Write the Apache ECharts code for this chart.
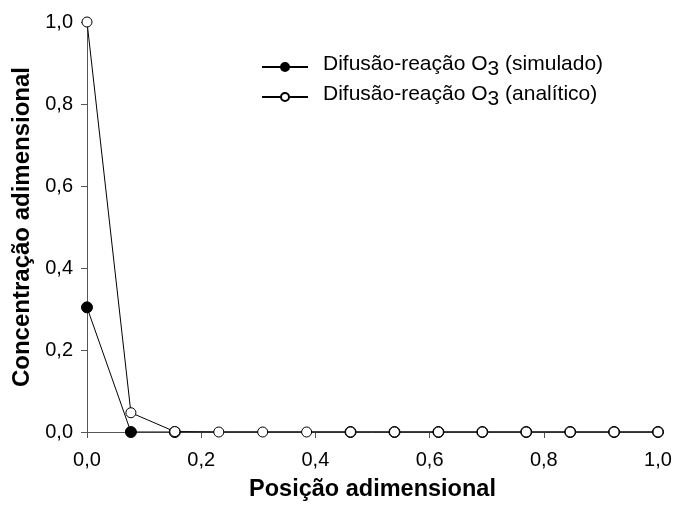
<!DOCTYPE html>
<html><head><meta charset="utf-8">
<script src="https://cdn.jsdelivr.net/npm/echarts@6/dist/echarts.min.js"></script>
<style>html,body{margin:0;padding:0;background:#fff}#c{width:676px;height:509px}</style>
</head><body><div id="c"></div>
<script>
var xSimulado = [0, 0.0769, 0.1538, 0.4615, 0.5385, 0.6154, 0.6923, 0.7692, 0.8462, 0.9231, 1.0];
var ySimulado = [0.304, 0.0, 0.0, 0, 0, 0, 0, 0, 0, 0, 0];
var xAnalitico = [0, 0.0769, 0.1538, 0.2308, 0.3077, 0.3846, 0.4615, 0.5385, 0.6154, 0.6923, 0.7692, 0.8462, 0.9231, 1.0];
var yAnalitico = [1.0, 0.047, 0.001, 0, 0, 0, 0, 0, 0, 0, 0, 0, 0, 0];
var seriesNames = ['Difusão-reação O3 (simulado)', 'Difusão-reação O3 (analítico)'];
var xTitle = 'Posição adimensional';
var yTitle = 'Concentração adimensional';

function pairs(xs, ys){ return xs.map(function(x,i){return [x, ys[i]];}); }
var font = 'Liberation Sans, Arial, sans-serif';
var chart = echarts.init(document.getElementById('c'), null, {renderer:'canvas'});
var axisCommon = {
  type:'value', min:0, max:1, interval:0.2,
  splitLine:{show:false},
  axisLine:{show:true, lineStyle:{color:'#555', width:1}},
  axisTick:{show:true, length:6, inside:false, lineStyle:{color:'#555'}},
  axisLabel:{color:'#000', fontFamily:font, fontSize:20, formatter:function(v){return v.toFixed(1).replace('.', ',');}},
  nameTextStyle:{color:'#000', fontFamily:font, fontWeight:'bold'}
};
function legendCfg(name, top){
  return {
    orient:'vertical', left:256, top:top, itemWidth:46, itemHeight:10, itemGap:0,
    data:[{name:name}],
    formatter:function(n){ var p=n.split('O3'); return '{a|'+p[0]+'O}{s|3}{a|'+p[1]+'}'; },
    textStyle:{color:'#000', fontFamily:font, fontSize:21, padding:[0,0,0,10],
      rich:{a:{fontFamily:font, fontSize:21, color:'#000', padding:[0,0,5,0]},
            s:{fontFamily:font, fontSize:21, color:'#000', padding:[5,0,0,0]}}}
  };
}
chart.setOption({
  animation:false,
  backgroundColor:'#fff',
  grid:{left:87, right:18, top:22, bottom:77, containLabel:false},
  xAxis: Object.assign({}, axisCommon, {name:xTitle, nameLocation:'middle', nameGap:46,
    nameTextStyle:Object.assign({}, axisCommon.nameTextStyle, {fontSize:23.5}),
    axisLabel:Object.assign({}, axisCommon.axisLabel, {margin:18})}),
  yAxis: Object.assign({}, axisCommon, {name:yTitle, nameLocation:'middle', nameGap:51,
    nameTextStyle:Object.assign({}, axisCommon.nameTextStyle, {fontSize:24}),
    axisLabel:Object.assign({}, axisCommon.axisLabel, {margin:14})}),
  legend:[legendCfg(seriesNames[0], 49), legendCfg(seriesNames[1], 79)],
  series:[
    {name:seriesNames[0], type:'line', data:pairs(xSimulado, ySimulado), symbol:'circle', symbolSize:11,
      lineStyle:{color:'#000', width:1}, itemStyle:{color:'#000', borderColor:'#000', borderWidth:1}, z:2},
    {name:seriesNames[1], type:'line', data:pairs(xAnalitico, yAnalitico), symbol:'circle', symbolSize:10,
      lineStyle:{color:'#000', width:1}, itemStyle:{color:'#fff', borderColor:'#000', borderWidth:1}, z:3}
  ]
});
</script></body></html>
